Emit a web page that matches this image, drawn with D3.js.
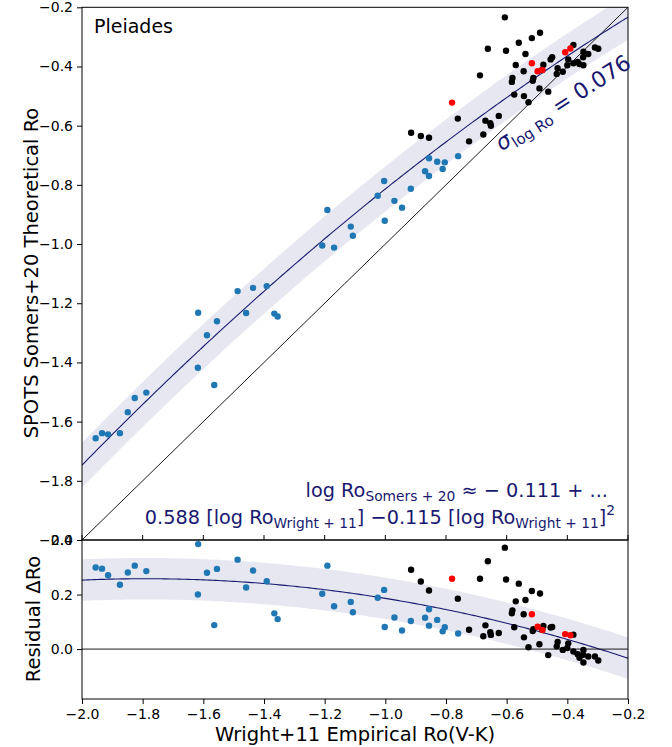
<html>
<head>
<meta charset="utf-8">
<script src='https://d3js.org/d3.v7.min.js'></script>
<style>
body {margin:0; background:#fff;}
text {font-family: 'DejaVu Sans', sans-serif;}
.tick text {font-size:14px; fill:#000;}
.tick line {stroke:#000;}
</style>
</head>
<body>
<svg width=672 height=747></svg>
<script>
// data (log Ro values)
var blueX = [-1.955,-1.934,-1.914,-1.875,-1.849,-1.826,-1.788,-1.617,-1.618,-1.588,-1.555,-1.564,-1.487,-1.459,-1.436,-1.391,-1.366,-1.355,-1.208,-1.191,-1.169,-1.114,-1.107,-1.025,-1.004,-0.970,-0.945,-1.002,-0.916,-0.869,-0.856,-0.856,-0.829,-0.804,-0.811,-0.760];
var blueY = [-1.656,-1.639,-1.643,-1.639,-1.568,-1.520,-1.502,-1.232,-1.418,-1.308,-1.261,-1.476,-1.159,-1.233,-1.148,-1.142,-1.235,-1.245,-1.005,-0.885,-1.012,-0.941,-0.972,-0.837,-0.787,-0.854,-0.877,-0.921,-0.813,-0.754,-0.770,-0.710,-0.722,-0.724,-0.746,-0.703];
var blackX = [-0.606,-0.662,-0.602,-0.560,-0.517,-0.490,-0.538,-0.570,-0.544,-0.688,-0.581,-0.583,-0.512,-0.514,-0.479,-0.483,-0.455,-0.450,-0.432,-0.415,-0.435,-0.397,-0.400,-0.380,-0.347,-0.331,-0.348,-0.309,-0.298,-0.380,-0.366,-0.360,-0.347,-0.492,-0.463,-0.575,-0.543,-0.528,-0.761,-0.670,-0.654,-0.652,-0.626,-0.915,-0.883,-0.856,-0.724,-0.677];
var blackY = [-0.234,-0.340,-0.347,-0.320,-0.304,-0.286,-0.358,-0.395,-0.416,-0.430,-0.439,-0.452,-0.439,-0.448,-0.394,-0.412,-0.376,-0.369,-0.406,-0.418,-0.425,-0.376,-0.396,-0.327,-0.350,-0.358,-0.369,-0.336,-0.340,-0.389,-0.385,-0.392,-0.396,-0.474,-0.485,-0.495,-0.500,-0.521,-0.576,-0.583,-0.592,-0.600,-0.567,-0.624,-0.635,-0.641,-0.653,-0.630];
var redX = [-0.780,-0.517,-0.498,-0.482,-0.407,-0.390];
var redY = [-0.522,-0.389,-0.416,-0.412,-0.352,-0.339];

// fit: log Ro_S = c0 + c1*x + c2*x^2, scatter sigma
var fitCoef = [-0.111, 0.588, -0.115];
var sigma = 0.076;
var xTicks = [-2.0,-1.8,-1.6,-1.4,-1.2,-1.0,-0.8,-0.6,-0.4,-0.2];
var yTicksTop = [-2.0,-1.8,-1.6,-1.4,-1.2,-1.0,-0.8,-0.6,-0.4,-0.2];
var yTicksBot = [0.0,0.2,0.4];

var navy = '#191970';
var svg = d3.select('svg');

var xs = d3.scaleLinear().domain([-2.0,-0.2]).range([82,628]);
var ys = d3.scaleLinear().domain([-2.0,-0.2]).range([540,7.3]);
var yr = d3.scaleLinear().domain([-0.183,0.4]).range([699,540]);

function fit(x) {return fitCoef[0] + fitCoef[1]*x + fitCoef[2]*x*x;}
var grid = d3.range(-2.0, -0.2 + 1e-9, 0.01);

function pts(xa, ya) {return xa.map(function(d,i){return {x:d, y:ya[i]};});}
var groups = [
  {p: pts(blueX, blueY), c: '#1f77b4'},
  {p: pts(blackX, blackY), c: '#000'},
  {p: pts(redX, redY), c: '#ff0000'}
];

var defs = svg.append('defs');
defs.append('clipPath').attr('id','cTop').append('rect')
  .attr('x',82).attr('y',7.3).attr('width',546).attr('height',532.7);
defs.append('clipPath').attr('id','cBot').append('rect')
  .attr('x',82).attr('y',540).attr('width',546).attr('height',159);

// ---- top panel
var gTop = svg.append('g').attr('clip-path','url(#cTop)');
gTop.append('path').datum(grid)
  .attr('d', d3.area().x(function(d){return xs(d);})
    .y0(function(d){return ys(fit(d)-sigma);}).y1(function(d){return ys(fit(d)+sigma);}))
  .attr('fill','#e6e7f0');
gTop.append('line').attr('x1',xs(-2)).attr('y1',ys(-2)).attr('x2',xs(-0.2)).attr('y2',ys(-0.2))
  .attr('stroke','#000').attr('stroke-width',0.9);
gTop.append('path').datum(grid)
  .attr('d', d3.line().x(function(d){return xs(d);}).y(function(d){return ys(fit(d));}))
  .attr('fill','none').attr('stroke',navy).attr('stroke-width',1.1);
groups.forEach(function(g){
  gTop.append('g').selectAll('circle').data(g.p).enter().append('circle')
    .attr('cx',function(d){return xs(d.x);}).attr('cy',function(d){return ys(d.y);})
    .attr('r',3.2).attr('fill',g.c);
});

// ---- bottom panel (residual = y - x)
var gBot = svg.append('g').attr('clip-path','url(#cBot)');
gBot.append('path').datum(grid)
  .attr('d', d3.area().x(function(d){return xs(d);})
    .y0(function(d){return yr(fit(d)-d-sigma);}).y1(function(d){return yr(fit(d)-d+sigma);}))
  .attr('fill','#e6e7f0');
gBot.append('path').datum(grid)
  .attr('d', d3.line().x(function(d){return xs(d);}).y(function(d){return yr(fit(d)-d);}))
  .attr('fill','none').attr('stroke',navy).attr('stroke-width',1.1);
gBot.append('line').attr('x1',82).attr('x2',628).attr('y1',yr(0)).attr('y2',yr(0))
  .attr('stroke','#000').attr('stroke-width',0.9);
groups.forEach(function(g){
  gBot.append('g').selectAll('circle').data(g.p).enter().append('circle')
    .attr('cx',function(d){return xs(d.x);}).attr('cy',function(d){return yr(d.y-d.x);})
    .attr('r',3.2).attr('fill',g.c);
});

// ---- axes
var fmt = d3.format('.1f');
svg.append('g').attr('transform','translate(82,0)')
  .call(d3.axisLeft(ys).tickValues(yTicksTop).tickFormat(fmt).tickSize(5).tickPadding(4))
  .call(function(g){g.select('.domain').remove();});
svg.append('g').attr('transform','translate(82,0)')
  .call(d3.axisLeft(yr).tickValues(yTicksBot).tickFormat(fmt).tickSize(5).tickPadding(4))
  .call(function(g){g.select('.domain').remove();});
svg.append('g').attr('transform','translate(0,699)')
  .call(d3.axisBottom(xs).tickValues(xTicks).tickFormat(fmt).tickSize(5).tickPadding(4))
  .call(function(g){g.select('.domain').remove(); g.selectAll('text').attr('dy','0.8em');});
// unlabeled ticks on top panel's bottom edge
svg.append('g').selectAll('line').data(xTicks).enter().append('line')
  .attr('x1',function(d){return xs(d);}).attr('x2',function(d){return xs(d);})
  .attr('y1',535).attr('y2',540).attr('stroke','#000');

svg.append('rect').attr('x',82).attr('y',7.3).attr('width',546).attr('height',532.7)
  .attr('fill','none').attr('stroke','#000').attr('stroke-width',1);
svg.append('rect').attr('x',82).attr('y',540).attr('width',546).attr('height',159)
  .attr('fill','none').attr('stroke','#000').attr('stroke-width',1);

// ---- labels
svg.append('text').attr('x',94).attr('y',33).attr('font-size','19px').text('Pleiades');
svg.append('text').attr('transform','translate(38,273) rotate(-90)').attr('text-anchor','middle')
  .attr('font-size','19.5px').text('SPOTS Somers+20 Theoretical Ro');
svg.append('text').attr('transform','translate(40,619) rotate(-90)').attr('text-anchor','middle')
  .attr('font-size','19.5px').text('Residual \u0394Ro');
svg.append('text').attr('x',355).attr('y',741).attr('text-anchor','middle')
  .attr('font-size','19.5px').text('Wright+11 Empirical Ro(V-K)');

var sig = svg.append('text').attr('transform','translate(567,109) rotate(-33)')
  .attr('text-anchor','middle').attr('font-size','22px').attr('fill',navy);
sig.append('tspan').attr('font-style','italic').text('\u03c3');
sig.append('tspan').attr('font-size','15px').attr('dy','5').text('log Ro');
sig.append('tspan').attr('dy','-5').text(' = 0.076');

var eq1 = svg.append('text').attr('x',608).attr('y',497).attr('text-anchor','end')
  .attr('font-size','19.3px').attr('fill',navy);
eq1.append('tspan').text('log Ro');
eq1.append('tspan').attr('font-size','13.8px').attr('dy','4').text('Somers + 20');
eq1.append('tspan').attr('dy','-4').text('  \u2248 \u2212 0.111 + ...');

var eq2 = svg.append('text').attr('x',615).attr('y',524).attr('text-anchor','end')
  .attr('font-size','19.3px').attr('fill',navy);
eq2.append('tspan').text('0.588 [log Ro');
eq2.append('tspan').attr('font-size','13.8px').attr('dy','4').text('Wright + 11');
eq2.append('tspan').attr('dy','-4').text('] \u22120.115 [log Ro');
eq2.append('tspan').attr('font-size','13.8px').attr('dy','4').text('Wright + 11');
eq2.append('tspan').attr('dy','-4').text(']');
eq2.append('tspan').attr('font-size','13.8px').attr('dy','-9').text('2');
</script>
</body>
</html>
